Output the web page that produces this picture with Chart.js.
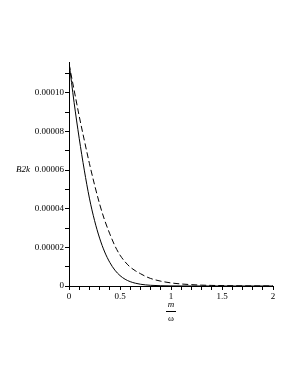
<!DOCTYPE html>
<html>
<head>
<meta charset="utf-8">
<script src="https://cdn.jsdelivr.net/npm/chart.js@4"></script>
<style>
  html, body { margin: 0; padding: 0; background: #fff; }
  #wrap { width: 298px; height: 385px; position: relative; }
</style>
</head>
<body>
<div id="wrap"><canvas id="c"></canvas></div>
<script>
// m/omega values
let solidX = [0, 0.05, 0.1, 0.15, 0.2, 0.25, 0.3, 0.35, 0.4, 0.45, 0.5, 0.55, 0.6, 0.65, 0.7, 0.75, 0.8,
    0.9, 1.0, 1.1, 1.2, 1.5, 2];
let solidY = [0.000116, 0.000095, 0.0000765, 0.00006, 0.0000455, 0.000034, 0.0000248, 0.0000176, 0.0000122,
    0.0000082, 0.0000054, 0.0000035, 0.00000225, 0.00000145, 0.00000092, 0.00000058, 0.00000036,
    0.00000014, 0.00000005, 0.00000002, 0.00000001, 0, 0];

let dashX = [0, 0.05, 0.1, 0.15, 0.2, 0.25, 0.3, 0.35, 0.4, 0.45, 0.5, 0.55, 0.6, 0.65, 0.7, 0.75, 0.8,
    0.9, 1.0, 1.1, 1.2, 1.3, 1.4, 1.5, 1.7, 2];
let dashY = [0.000115, 0.0001015, 0.000088, 0.0000755, 0.0000635, 0.0000525, 0.0000425, 0.000034, 0.000027,
    0.0000208, 0.000016, 0.0000125, 0.0000098, 0.0000079, 0.0000064, 0.000005, 0.0000039,
    0.0000025, 0.0000016, 0.00000105, 0.0000007, 0.00000045, 0.0000003, 0.0000002, 0.00000008, 0.00000002];

let xTickLabels = ["0", "0.5", "1", "1.5", "2"];
let yTickLabels = ["0", "0.00002", "0.00004", "0.00006", "0.00008", "0.00010"];

const toPts = (xs, ys) => xs.map((x, i) => ({ x: x, y: ys[i] }));

// label only every 5th x tick / every 2nd y tick, the rest are minor marks
function xMajor(v) {
    let k = Math.round(v / 0.1);
    return Math.abs(v - k * 0.1) < 1e-6 && k % 5 === 0 ? k / 5 : -1;
}
function yMajor(v) {
    let k = Math.round(v / 0.00001);
    return Math.abs(v - k * 0.00001) < 1e-10 && k % 2 === 0 ? k / 2 : -1;
}
function yOnStep(v) {
    let k = Math.round(v / 0.00001);
    return Math.abs(v - k * 0.00001) < 1e-10;
}

const serif = "'Liberation Serif', 'DejaVu Serif', serif";

// axis titles drawn Maple style: B2k horizontal, m over omega as a fraction
const titles = {
    id: "titles",
    afterDraw(chart) {
        const ctx = chart.ctx;
        const xs = chart.scales.x;
        const ys = chart.scales.y;
        ctx.save();
        ctx.fillStyle = "#000";
        ctx.textBaseline = "middle";
        ctx.textAlign = "left";
        ctx.font = "italic 9px " + serif;
        ctx.fillText("B2k", 16, ys.getPixelForValue(0.000060));

        let cx = xs.getPixelForValue(1);
        let top = chart.chartArea.bottom;
        ctx.textAlign = "center";
        ctx.fillText("m", cx, top + 19);
        ctx.font = "9px " + serif;
        ctx.fillText("ω", cx, top + 33);
        ctx.strokeStyle = "#000";
        ctx.lineWidth = 1;
        ctx.beginPath();
        ctx.moveTo(cx - 5, top + 25.5);
        ctx.lineTo(cx + 5, top + 25.5);
        ctx.stroke();
        ctx.restore();
    }
};

new Chart(document.getElementById("c"), {
    type: "scatter",
    data: {
        datasets: [
            {
                data: toPts(solidX, solidY),
                showLine: true,
                borderColor: "#000",
                borderWidth: 1,
                pointRadius: 0,
                cubicInterpolationMode: "monotone",
            },
            {
                data: toPts(dashX, dashY),
                showLine: true,
                borderColor: "#000",
                borderWidth: 1,
                borderDash: [6, 3],
                pointRadius: 0,
                cubicInterpolationMode: "monotone",
            },
        ],
    },
    options: {
        responsive: true,
        maintainAspectRatio: false,
        animation: false,
        layout: { padding: { top: 62, right: 25, left: 0, bottom: 0 } },
        plugins: {
            legend: { display: false },
            tooltip: { enabled: false },
        },
        scales: {
            x: {
                type: "linear",
                min: 0,
                max: 2,
                afterFit: (s) => { s.height = 99; },
                border: { display: true, color: "#000", width: 1 },
                grid: {
                    drawOnChartArea: false,
                    drawTicks: true,
                    tickLength: 4,
                    tickColor: "#000",
                },
                ticks: {
                    stepSize: 0.1,
                    autoSkip: false,
                    maxRotation: 0,
                    padding: 1,
                    color: "#000",
                    font: { family: serif, size: 9 },
                    callback: (v) => {
                        let i = xMajor(v);
                        return i >= 0 ? xTickLabels[i] : "";
                    },
                },
            },
            y: {
                type: "linear",
                min: 0,
                max: 0.000116,
                afterFit: (s) => { s.width = 69; },
                border: { display: true, color: "#000", width: 1 },
                grid: {
                    drawOnChartArea: false,
                    drawTicks: true,
                    tickLength: 4,
                    tickColor: (c) => (c.tick && yOnStep(c.tick.value) ? "#000" : "rgba(0,0,0,0)"),
                },
                ticks: {
                    stepSize: 0.00001,
                    autoSkip: false,
                    padding: 1,
                    color: "#000",
                    font: { family: serif, size: 9 },
                    callback: (v) => {
                        let i = yMajor(v);
                        return i >= 0 ? yTickLabels[i] : "";
                    },
                },
            },
        },
    },
    plugins: [titles],
});
</script>
</body>
</html>
